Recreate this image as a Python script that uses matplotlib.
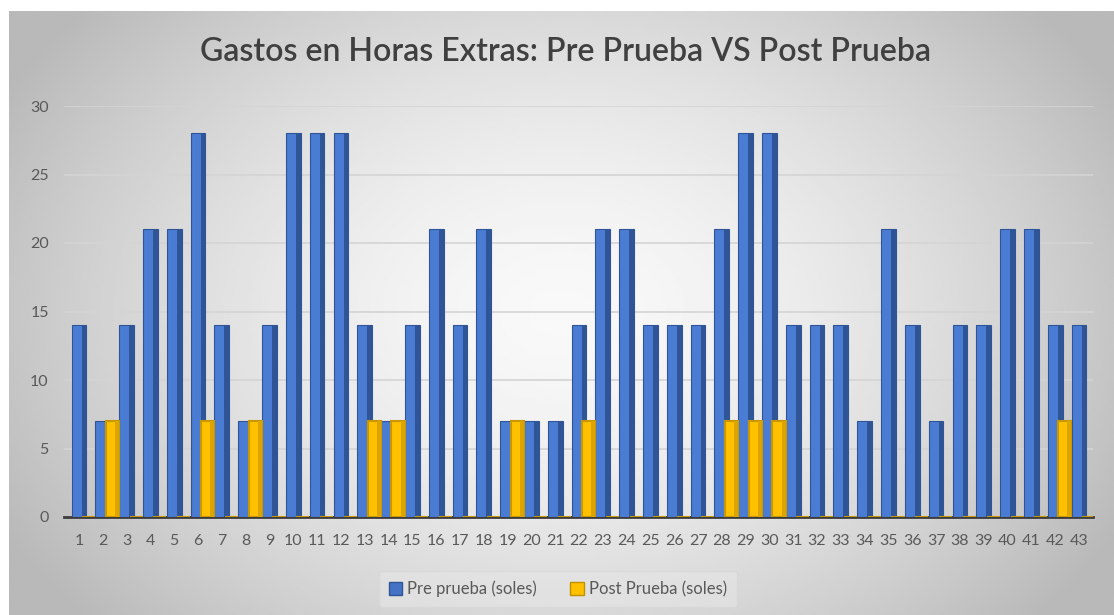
import numpy as np
import matplotlib
matplotlib.use('Agg')
import matplotlib.pyplot as plt
from matplotlib.patches import Patch

plt.rcParams['font.family'] = ['Lato', 'DejaVu Sans']

# data
dias = [str(i) for i in range(1, 44)]
pre_prueba = [14, 7, 14, 21, 21, 28, 14, 7, 14, 28, 28, 28, 14, 7, 14, 21, 14, 21, 7, 7, 7,
              14, 21, 21, 14, 14, 14, 21, 28, 28, 14, 14, 14, 7, 21, 14, 7, 14, 14, 21, 21, 14, 14]
post_prueba = [0, 7, 0, 0, 0, 7, 0, 7, 0, 0, 0, 0, 7, 7, 0, 0, 0, 0, 7, 0, 0,
               7, 0, 0, 0, 0, 0, 7, 7, 7, 0, 0, 0, 0, 0, 0, 0, 0, 0, 0, 0, 7, 0]
y_ticks = [0, 5, 10, 15, 20, 25, 30]

W, H = 1114, 615
fig = plt.figure(figsize=(W / 100, H / 100), dpi=100)
fig.patch.set_facecolor('white')

# gray radial background of the chart area
bg = fig.add_axes([9 / W, 0, 1 - 9 / W, (H - 11) / H])
bg.set_zorder(-1)
gx, gy = np.meshgrid(np.linspace(-1, 1, 400), np.linspace(-1, 1, 220))
r = np.clip(np.sqrt(gx ** 2 + (gy * 0.75) ** 2), 0, 1.15)
shade = 0.975 - 0.2 * r ** 1.6
bg.imshow(shade, cmap='gray', vmin=0, vmax=1, aspect='auto', extent=[0, 1, 0, 1])
bg.axis('off')

ax = fig.add_axes([64 / W, (H - 517) / H, (1093 - 64) / W, (517 - 106) / H])
ax.set_facecolor('none')

x = np.arange(1, len(dias) + 1)
bw = 0.62
yw = 0.55

# blue series: front face + darker side
ax.bar(x, pre_prueba, width=bw, color='#4a7cd3', edgecolor='#2f5597', linewidth=0.8, zorder=3)
ax.bar(x + bw / 2 - 0.1, pre_prueba, width=0.2, color='#2f5597', linewidth=0, zorder=3)

# yellow series in front
ax.bar(x + 0.4, post_prueba, width=yw, color='#ffc000', edgecolor='#c99700', linewidth=1.5, zorder=4)
ax.bar(x + 0.4 + yw / 2 - 0.08, post_prueba, width=0.16, color='#dba400', linewidth=0, zorder=4)

ax.set_xlim(0.37, 43.59)
ax.set_ylim(0, 30)
ax.set_yticks(y_ticks)
ax.set_xticks(x)
ax.set_xticklabels(dias)
ax.tick_params(axis='both', length=0, labelsize=11.5, colors='#595959')
ax.tick_params(axis='x', pad=12)
ax.tick_params(axis='y', pad=11)
ax.grid(axis='y', color='#d4d4d4', linewidth=1.2, zorder=0)
for s in ['top', 'right', 'left']:
    ax.spines[s].set_visible(False)
ax.spines['bottom'].set_color('#3c3c3c')
ax.spines['bottom'].set_linewidth(2)

fig.text(565 / W, 1 - 52 / H, 'Gastos en Horas Extras: Pre Prueba VS Post Prueba',
         ha='center', va='center', fontsize=23, fontweight='semibold', color='#404040')

handles = [Patch(facecolor='#4472c4', edgecolor='#2f5597', label='Pre prueba (soles)'),
           Patch(facecolor='#ffc000', edgecolor='#bf9000', label='Post Prueba (soles)')]
leg = fig.legend(handles=handles, loc='center', bbox_to_anchor=(558 / W, 1 - 589 / H), ncol=2,
                 frameon=True, fontsize=12, handlelength=0.8, handleheight=0.8,
                 handletextpad=0.3, columnspacing=2.0, borderpad=0.6)
leg.get_frame().set_facecolor('#e6e6e6')
leg.get_frame().set_edgecolor('#d6d6d6')
leg.get_frame().set_alpha(0.6)
for t in leg.get_texts():
    t.set_color('#595959')

plt.savefig('out.png', dpi=100)
